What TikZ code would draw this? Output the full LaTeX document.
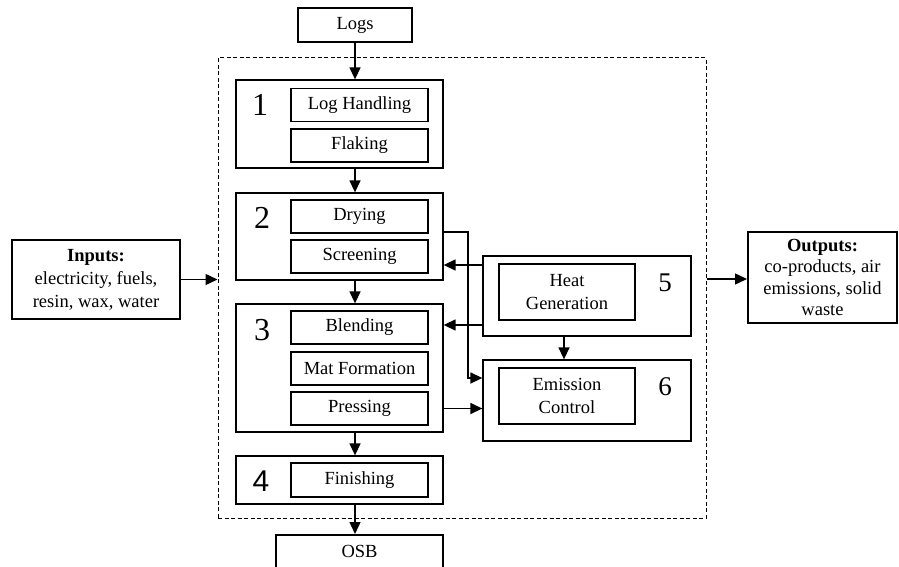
\documentclass[tikz,border=0pt]{standalone}
\usepackage{fontspec}
\setmainfont{Liberation Serif}
\newfontfamily\numsans{Liberation Sans}
\usetikzlibrary{arrows.meta}
\begin{document}
\begin{tikzpicture}[x=1pt,y=-1pt,
  base/.style={draw, inner sep=0pt, align=center, font=\fontsize{18.5}{23}\selectfont},
  heavy/.style={base, line width=2pt},
  outer/.style={base, line width=1.3pt},
  inner/.style={base, line width=1.6pt},
  bignum/.style={inner sep=0pt, font=\fontsize{32}{32}\selectfont},
  midnum/.style={inner sep=0pt, font=\fontsize{27}{27}\selectfont},
  arr/.style={line width=1.4pt, -{Triangle[length=12pt,width=11pt]}},
  sysbox/.style={draw, line width=1pt, dash pattern=on 4pt off 2.5pt, inner sep=0pt}
]
\useasboundingbox (0,0) rectangle (899,567);
% system boundary
\node[sysbox, minimum width=488, minimum height=460] (sys) at (462,288) {};
% top / bottom
\node[heavy, minimum width=114, minimum height=34] (logs) at (355,25) {Logs};
\node[heavy, minimum width=167, minimum height=40] (osb) at (359.5,555) {};
\node[font=\fontsize{18.5}{23}\selectfont] (osbt) at (359.5,551) {OSB};
% block 1
\node[outer, minimum width=207, minimum height=88] (b1) at (339.5,124) {};
\node[inner, minimum width=137, minimum height=33] (lh) at (359.5,105) {Log Handling};
\node[inner, minimum width=137, minimum height=33] (fl) at (359.5,145.5) {Flaking};
\node[bignum] (n1) at (260,105) {1};
% block 2
\node[outer, minimum width=207, minimum height=87] (b2) at (339.5,236.5) {};
\node[inner, minimum width=137, minimum height=33] (dr) at (359.5,216.5) {Drying};
\node[inner, minimum width=137, minimum height=33] (sc) at (359.5,256.5) {Screening};
\node[bignum] (n2) at (262,218) {2};
% block 3
\node[outer, minimum width=207, minimum height=128] (b3) at (339.5,368) {};
\node[inner, minimum width=137, minimum height=33] (bl) at (359.5,327.5) {Blending};
\node[inner, minimum width=137, minimum height=33] (mf) at (359.5,368.5) {Mat Formation};
\node[inner, minimum width=137, minimum height=33] (pr) at (359.5,408.5) {Pressing};
\node[bignum] (n3) at (262,330) {3};
% block 4
\node[outer, minimum width=207, minimum height=48] (b4) at (339.5,480) {};
\node[inner, minimum width=137, minimum height=34] (fi) at (359.5,480) {Finishing};
\node[bignum, font=\numsans\fontsize{30}{30}\selectfont] (n4) at (261,481) {4};
% block 5
\node[outer, minimum width=208, minimum height=80] (b5) at (587,296) {};
\node[inner, minimum width=136, minimum height=56] (hg) at (567,292) {Heat\\Generation};
\node[midnum] (n5) at (665,283) {5};
% block 6
\node[outer, minimum width=208, minimum height=81] (b6) at (587,400.5) {};
\node[inner, minimum width=136, minimum height=56] (ec) at (567,396) {Emission\\Control};
\node[midnum] (n6) at (665,387) {6};
% inputs / outputs
\node[heavy, minimum width=168, minimum height=79] (inp) at (96,279.5)
  {\textbf{Inputs:}\\electricity, fuels,\\resin, wax, water};
\node[heavy, minimum width=149, minimum height=91, font=\fontsize{18.5}{21.5}\selectfont] (outp) at (822.5,277.5)
  {\textbf{Outputs:}\\co-products, air\\emissions, solid\\waste};
% helper coordinates
\coordinate (ax) at (355,0);
\coordinate (t1) at (468,232);
\coordinate (e1) at (0,378);
\coordinate (h2) at (0,265);
\coordinate (h3) at (0,325);
\coordinate (v5) at (564,0);
% main flow
\draw[arr] (logs.south) -- (logs.south |- b1.north);
\draw[arr] (b1.south -| ax) -- (b2.north -| ax);
\draw[arr] (b2.south -| ax) -- (b3.north -| ax);
\draw[arr] (b3.south -| ax) -- (b4.north -| ax);
\draw[arr] (b4.south -| ax) -- (osb.north -| ax);
% side flows
\draw[arr] (b2.east |- t1) -- (t1) |- (b6.west |- e1);
\draw[arr] (b5.west |- h2) -- (b2.east |- h2);
\draw[arr] (b5.west |- h3) -- (b3.east |- h3);
\draw[arr] (b3.east |- pr) -- (b6.west |- pr);
\draw[arr] (b5.south -| v5) -- (b6.north -| v5);
% inputs / outputs
\draw[arr] (inp.east) -- (inp.east -| sys.west);
\draw[arr] (sys.east |- 0,279) -- (outp.west |- 0,279);
\end{tikzpicture}
\end{document}
